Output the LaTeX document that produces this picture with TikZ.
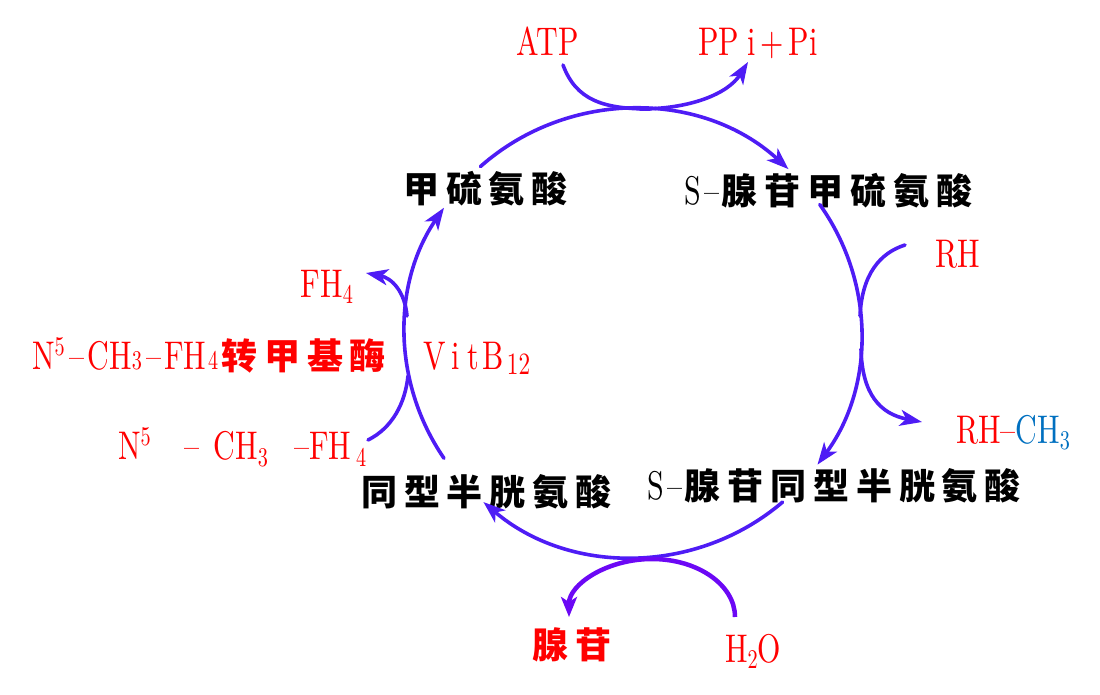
\documentclass[tikz,border=0pt]{standalone}
\usepackage{fontspec}
\usetikzlibrary{arrows.meta,calc}
\newfontfamily\lat[FakeStretch=0.75]{lmroman10-regular.otf}
\newfontfamily\cjk[LetterSpace=19]{Noto Sans CJK SC}
\definecolor{flowc}{RGB}{78,28,245}
\definecolor{hydc}{RGB}{108,8,245}
\definecolor{redc}{RGB}{255,0,0}
\definecolor{bluec}{RGB}{0,112,192}
\newcommand\lsub[1]{\raisebox{-6pt}{\fontsize{27}{27}\selectfont #1}}
\newcommand\lsubb[1]{\raisebox{0pt}{\fontsize{27}{27}\selectfont #1}}
\newcommand\lsubc[1]{\raisebox{-5pt}{\fontsize{31}{31}\selectfont #1}}
\newcommand\lsup[1]{\raisebox{14pt}{\fontsize{27}{27}\selectfont #1}}
\newcommand\latS{{\lat\mdseries\fontsize{40}{40}\selectfont S\hspace{4pt}–}}
\tikzset{
  lt/.style={inner sep=0pt, text=redc, font=\lat\fontsize{40}{40}\selectfont},
  cn/.style={inner sep=0pt, text=black, font=\cjk\bfseries\fontsize{36}{36}\selectfont},
  cnr/.style={cn, text=redc},
  flow/.style={draw=flowc, line width=3.6pt, line cap=round},
  tip/.style={-{Stealth[length=22pt,width=16pt,inset=6pt]}},
  hyd/.style={draw=hydc, line width=4.5pt, -{Stealth[length=20pt,width=16pt,inset=5pt]}}
}
\begin{document}
\begin{tikzpicture}[x=1pt,y=1pt]
\useasboundingbox (0,0) rectangle (1100,694);
% centre of the cycle
\coordinate (O) at (633,361);
% texts
\node[lt,anchor=base] (atp) at (548,638) {ATP};
\node[lt,anchor=base west] (ppi) at (698,638) {PP\hspace{8pt}i\hspace{5pt}+\hspace{5pt}Pi};
\node[cn,anchor=west] (met) at (403,505) {甲硫氨酸};
\node[cn,anchor=west] (sam) at (684,503) {\latS\hspace{2pt}腺苷甲硫氨酸};
\node[lt,anchor=base] (rh) at (958,426) {RH};
\node[lt,anchor=base] (rhch) at (1013,251) {RH–\textcolor{bluec}{CH\lsub{3}}};
\node[cn,anchor=west] (sah) at (647,208) {\latS\hspace{2pt}腺苷同型半胱氨酸};
\node[cn,anchor=west] (hcy) at (361,202) {同型半胱氨酸};
\node[cnr,anchor=west] (ado) at (532,49) {腺苷};
\node[lt,anchor=base] (h2o) at (753,32) {H\lsub{2}O};
\node[lt,anchor=base] (fh4) at (327,396) {FH\lsub{4}};
\node[lt,anchor=base west] (enz) at (32,324) {N\lsup{5}\hspace{5pt}–\hspace{3pt}CH\lsubb{3}\hspace{4pt}–\hspace{3pt}FH\hspace{2pt}\lsubb{4}\hspace{3pt}{\cjk\bfseries\fontsize{36}{36}\selectfont 转甲基酶}};
\node[lt,anchor=base west] (b12) at (423,324) {V\hspace{6pt}i\hspace{7pt}t\hspace{4pt}B\hspace{3pt}\lsubc{12}};
\node[lt,anchor=base west] (mfh) at (118,234) {N\lsup{5}\hspace{34pt}–\hspace{14pt}CH\lsub{3}\hspace{26pt}–FH\hspace{5pt}\lsub{4}};
% points on the cycle
\coordinate (t0) at ($(O)+(132:228 and 224)$);
\coordinate (r0) at ($(O)+(35:228 and 224)$);
\coordinate (b0) at ($(O)+(-49:228 and 224)$);
\coordinate (l0) at ($(O)+(214:228 and 224)$);
% main cycle arcs
\draw[flow,tip] (t0) arc[start angle=132,end angle=47,x radius=228,y radius=224];
\draw[flow,tip] (r0) arc[start angle=35,end angle=-36,x radius=228,y radius=224];
\draw[flow,tip] (b0) arc[start angle=-49,end angle=-131,x radius=228,y radius=224];
\draw[flow,tip] (l0) arc[start angle=214,end angle=146,x radius=228,y radius=224];
% side reactions
\coordinate (atpS) at (563,629);
\coordinate (topM) at (650,585);
\coordinate (topN) at (640,585);
\coordinate (ppiE) at (748,632);
\draw[flow] (atpS) .. controls (576,594) and (603,585) .. (topM);
\draw[flow,tip] (topN) .. controls (690,585) and (728,600) .. (ppiE);
\coordinate (rhS) at (905,449);
\coordinate (rhM) at (860,378);
\draw[flow] (rhS) .. controls (880,441) and (862,420) .. (rhM);
\coordinate (rcS) at (861,345);
\coordinate (rcE) at (922,272);
\draw[flow,tip] (rcS) .. controls (862,300) and (880,280) .. (rcE);
\coordinate (mfS) at (368,254);
\coordinate (mfM) at (408,318);
\draw[flow] (mfS) .. controls (392,266) and (405,290) .. (mfM);
\coordinate (fhS) at (407,378);
\coordinate (fhE) at (366,421);
\draw[flow,tip] (fhS) .. controls (405,402) and (392,416) .. (fhE);
\coordinate (h2S) at (735,77);
\draw[hyd] (h2S) arc[start angle=0,end angle=180,x radius=83,y radius=58];
\end{tikzpicture}
\end{document}
